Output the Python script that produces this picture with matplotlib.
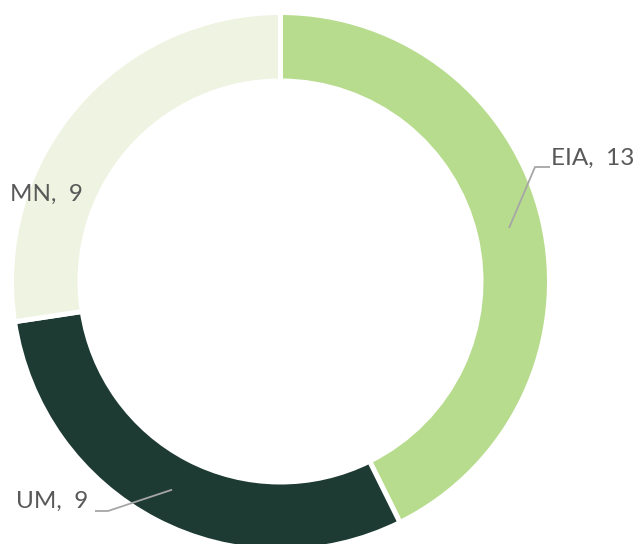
import numpy as np
import matplotlib
matplotlib.use("Agg")
import matplotlib.pyplot as plt

# data (labels on the chart are rounded values)
names = ["EIA", "UM", "MN"]
values = [13.4, 9.4, 8.6]
colors = ["#b8dc8e", "#1e3b33", "#eff3e1"]

W, H = 634, 544
cx, cy = 280.5, H - 281.5
r_out, r_in = 266.5, 203.0
gap = 5.0  # white separator, px

plt.rcParams["font.family"] = ["Lato", "DejaVu Sans"]

fig = plt.figure(figsize=(W / 100, H / 100), dpi=100)
ax = fig.add_axes([0, 0, 1, 1])

lw = gap * 72 / 100
wedges, _ = ax.pie(values, colors=colors, startangle=90, counterclock=False,
                   center=(cx, cy), radius=r_out + gap / 2,
                   wedgeprops=dict(width=r_out - r_in + gap, edgecolor="white",
                                   linewidth=lw))

# pie resets the limits, so set them afterwards
ax.set_xlim(0, W)
ax.set_ylim(0, H)
ax.set_aspect("equal")
ax.axis("off")

# label placement: elbow point (px, from top-left), text side
label_pos = {
    "EIA": ((535, 167), "right", True),
    "UM": ((108, 511), "left", True),
    "MN": ((10, 194), "left", False),
}
r_mid = (r_in + r_out) / 2
for w, name, v in zip(wedges, names, values):
    ang = np.deg2rad((w.theta1 + w.theta2) / 2)
    x0, y0 = cx + r_mid * np.cos(ang), cy + r_mid * np.sin(ang)
    (ex, ey), side, leader = label_pos[name]
    ey = H - ey
    txt = f"{name},  {v:.0f}"
    if leader:
        hx = ex + 15 if side == "right" else ex - 13
        ax.plot([x0, ex, hx], [y0, ey, ey], color="#a6a6a6", lw=1.3,
                solid_capstyle="butt")
        if side == "right":
            ax.text(hx + 1, ey + 9, txt, ha="left", va="center",
                    fontsize=17.5, color="#595959")
        else:
            ax.text(hx - 7, ey + 10, txt, ha="right", va="center",
                    fontsize=17.5, color="#595959")
    else:
        ax.text(ex, ey, txt, ha="left", va="center",
                fontsize=17.5, color="#595959")

fig.savefig("out.png", dpi=100)
